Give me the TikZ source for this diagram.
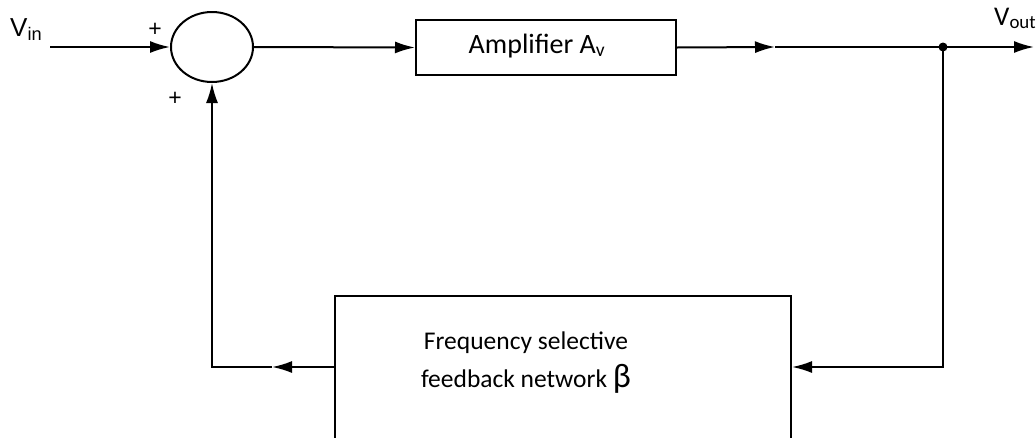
\documentclass[tikz,border=0pt]{standalone}
\usepackage{fontspec}
\setmainfont{Carlito}
\newfontfamily\arialf{Liberation Sans}
\usetikzlibrary{arrows.meta,shapes.geometric}
\begin{document}
\begin{tikzpicture}[x=1pt,y=-1pt,
  wire/.style={line width=2pt},
  tip/.style={-{Latex[length=20pt,width=12pt]}},
  blk/.style={draw,line width=2pt,rectangle,inner sep=0pt},
  lbl/.style={font=\fontsize{25.5}{38}\selectfont,align=center,inner sep=0pt},
  pl/.style={font=\arialf\fontsize{23}{23}\selectfont,inner sep=0pt}]
\useasboundingbox (0,0) rectangle (1036,437);
\clip (0,0) rectangle (1036,437);
% summing junction
\node[draw,line width=2pt,ellipse,minimum width=82pt,minimum height=70pt,inner sep=0pt] (sum) at (212,47) {};
% amplifier
\node[blk,minimum width=260pt,minimum height=55pt] (amp) at (546,47.5) {};
\node[lbl,anchor=base,font=\fontsize{28}{38}\selectfont] (amptxt) at (537,53) {Amplifier A\textsubscript{v}};
% feedback network
\node[blk,minimum width=456pt,minimum height=165pt,anchor=north west] (fb) at (334,295) {};
\node[lbl,anchor=base] (fbtxt) at (526,387) {Frequency selective\\feedback network {\fontsize{34}{38}\selectfont β}};
% labels
\node[anchor=base west,inner sep=0pt,font=\arialf\fontsize{26}{26}\selectfont] (vin) at (10,36) {V\textsubscript{in}};
\node[anchor=base west,inner sep=0pt,font=\fontsize{27}{27}\selectfont] (vout) at (994,25) {V\textsubscript{out}};
\node[pl] (p1) at (155,30) {+};
\node[pl] (p2) at (175,99) {+};
% coordinates
\coordinate (in) at (50,47);
\coordinate (m1) at (775,47);
\coordinate (jn) at (943,47);
\coordinate (out) at (1034,47);
\coordinate (c1) at (943,367);
\coordinate (m2) at (272,367);
\coordinate (c2) at (212,367);
% wires
\draw[wire,tip] (in) -- (sum.west);
\draw[wire,tip] (sum.east) -- (amp.west);
\draw[wire,tip] (amp.east) -- (m1);
\draw[wire] (m1) -- (jn);
\draw[wire,tip] (jn) -- (out);
\fill (jn) circle (4.5pt);
\draw[wire,tip] (jn) -- (c1) -- (fb.east |- c1);
\draw[wire,tip] (fb.west |- c1) -- (m2);
\draw[wire,tip] (m2) -- (c2) -- (sum.south);
\end{tikzpicture}
\end{document}
